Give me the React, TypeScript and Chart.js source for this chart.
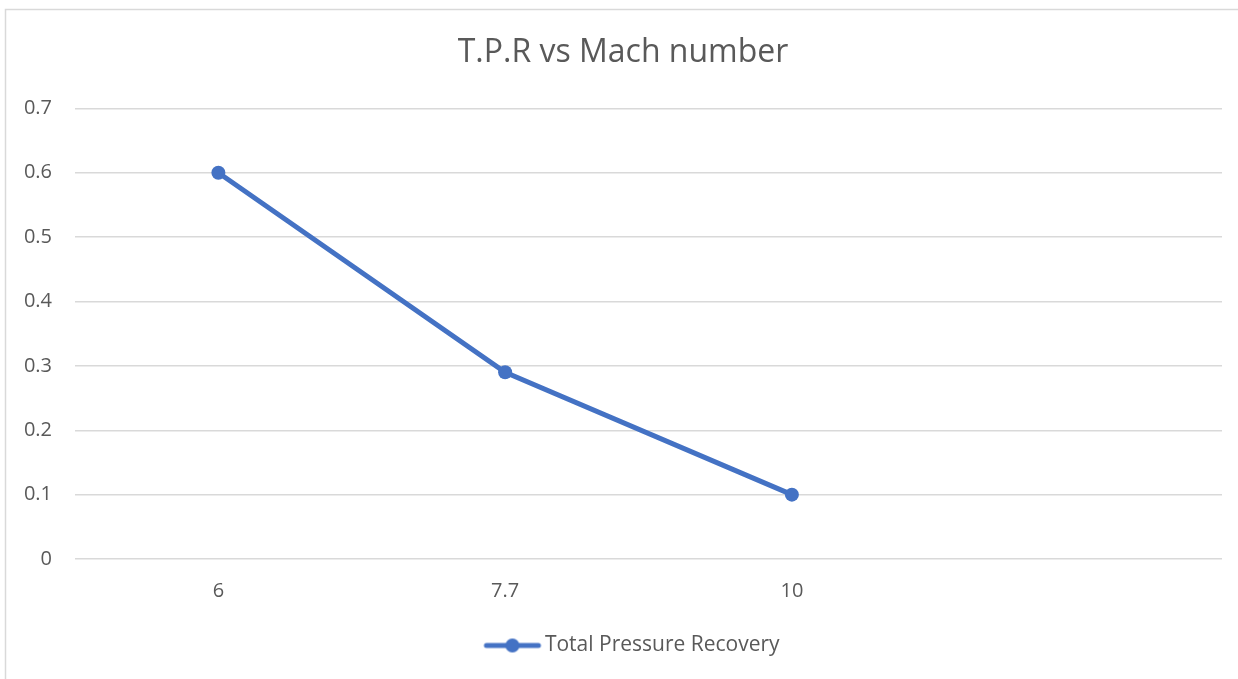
import React, { useEffect, useRef } from "react";
import { Chart, registerables } from "chart.js";

Chart.register(...registerables);

const categories = ["6", "7.7", "10", ""];
const tprValues = [0.6, 0.29, 0.1, null];
const seriesName = "Total Pressure Recovery";
const titleText = "T.P.R vs Mach number";
const yTicks = [0, 0.1, 0.2, 0.3, 0.4, 0.5, 0.6, 0.7];

const BLUE = "#4472C4";
const TEXT = "#595959";
const GRID = "#D9D9D9";
const FONT = "'Open Sans', Lato, sans-serif";

function legendIcon(): HTMLCanvasElement {
  const c = document.createElement("canvas");
  c.width = 84;
  c.height = 18;
  const ctx = c.getContext("2d")!;
  ctx.strokeStyle = BLUE;
  ctx.lineWidth = 5;
  ctx.lineCap = "round";
  ctx.beginPath();
  ctx.moveTo(28, 9);
  ctx.lineTo(80, 9);
  ctx.stroke();
  ctx.fillStyle = BLUE;
  ctx.beginPath();
  ctx.arc(54, 9, 7, 0, Math.PI * 2);
  ctx.fill();
  return c;
}

const borderPlugin = {
  id: "outerBorder",
  beforeDraw(chart: any) {
    const ctx = chart.ctx;
    ctx.save();
    ctx.fillStyle = "#ffffff";
    ctx.fillRect(0, 0, chart.width, chart.height);
    ctx.strokeStyle = GRID;
    ctx.lineWidth = 1.5;
    ctx.strokeRect(5.5, 9.5, chart.width + 20, chart.height + 20);
    ctx.restore();
  },
};

export default function App() {
  const ref = useRef<HTMLCanvasElement | null>(null);

  useEffect(() => {
    if (!ref.current) return;
    const icon = legendIcon();
    const chart = new Chart(ref.current, {
      type: "line",
      data: {
        labels: categories,
        datasets: [
          {
            label: seriesName,
            data: tprValues,
            borderColor: BLUE,
            backgroundColor: BLUE,
            borderWidth: 5,
            pointRadius: 7,
            pointHoverRadius: 7,
            pointBackgroundColor: BLUE,
            pointBorderWidth: 0,
            tension: 0,
          },
        ],
      },
      options: {
        animation: false,
        responsive: false,
        layout: { padding: { left: 24, right: 16, top: 0, bottom: 13 } },
        plugins: {
          title: {
            display: true,
            text: titleText,
            color: TEXT,
            font: { family: FONT, size: 32, weight: "normal" as any },
            padding: { top: 34, bottom: 36 },
          },
          legend: {
            position: "bottom",
            labels: {
              color: TEXT,
              font: { family: FONT, size: 21 },
              usePointStyle: true,
              pointStyleWidth: 68,
              padding: 10,
              generateLabels: () => [
                {
                  text: seriesName,
                  pointStyle: icon as any,
                  fontColor: TEXT,
                  datasetIndex: 0,
                  hidden: false,
                } as any,
              ],
            },
          },
          tooltip: { enabled: false },
        },
        scales: {
          x: {
            offset: true,
            grid: { display: false, drawTicks: false },
            border: { display: false },
            ticks: {
              color: TEXT,
              font: { family: FONT, size: 20 },
              padding: 20,
            },
            afterFit: (scale: any) => {
              scale.height = 66;
            },
          },
          y: {
            min: 0,
            max: 0.7,
            afterBuildTicks: (scale: any) => {
              scale.ticks = yTicks.map((v) => ({ value: v }));
            },
            grid: { color: GRID, lineWidth: 1.5, drawTicks: false },
            border: { display: false },
            ticks: {
              color: TEXT,
              font: { family: FONT, size: 20 },
              padding: 23,
              callback: (v: any) => String(Math.round(Number(v) * 10) / 10),
            },
            afterFit: (scale: any) => {
              scale.width = 51;
            },
          },
        },
      },
      plugins: [borderPlugin],
    });
    return () => chart.destroy();
  }, []);

  return (
    <div style={{ position: "absolute", left: 0, top: 0, width: 1238, height: 679 }}>
      <canvas ref={ref} width={1238} height={679} style={{ display: "block" }} />
    </div>
  );
}
